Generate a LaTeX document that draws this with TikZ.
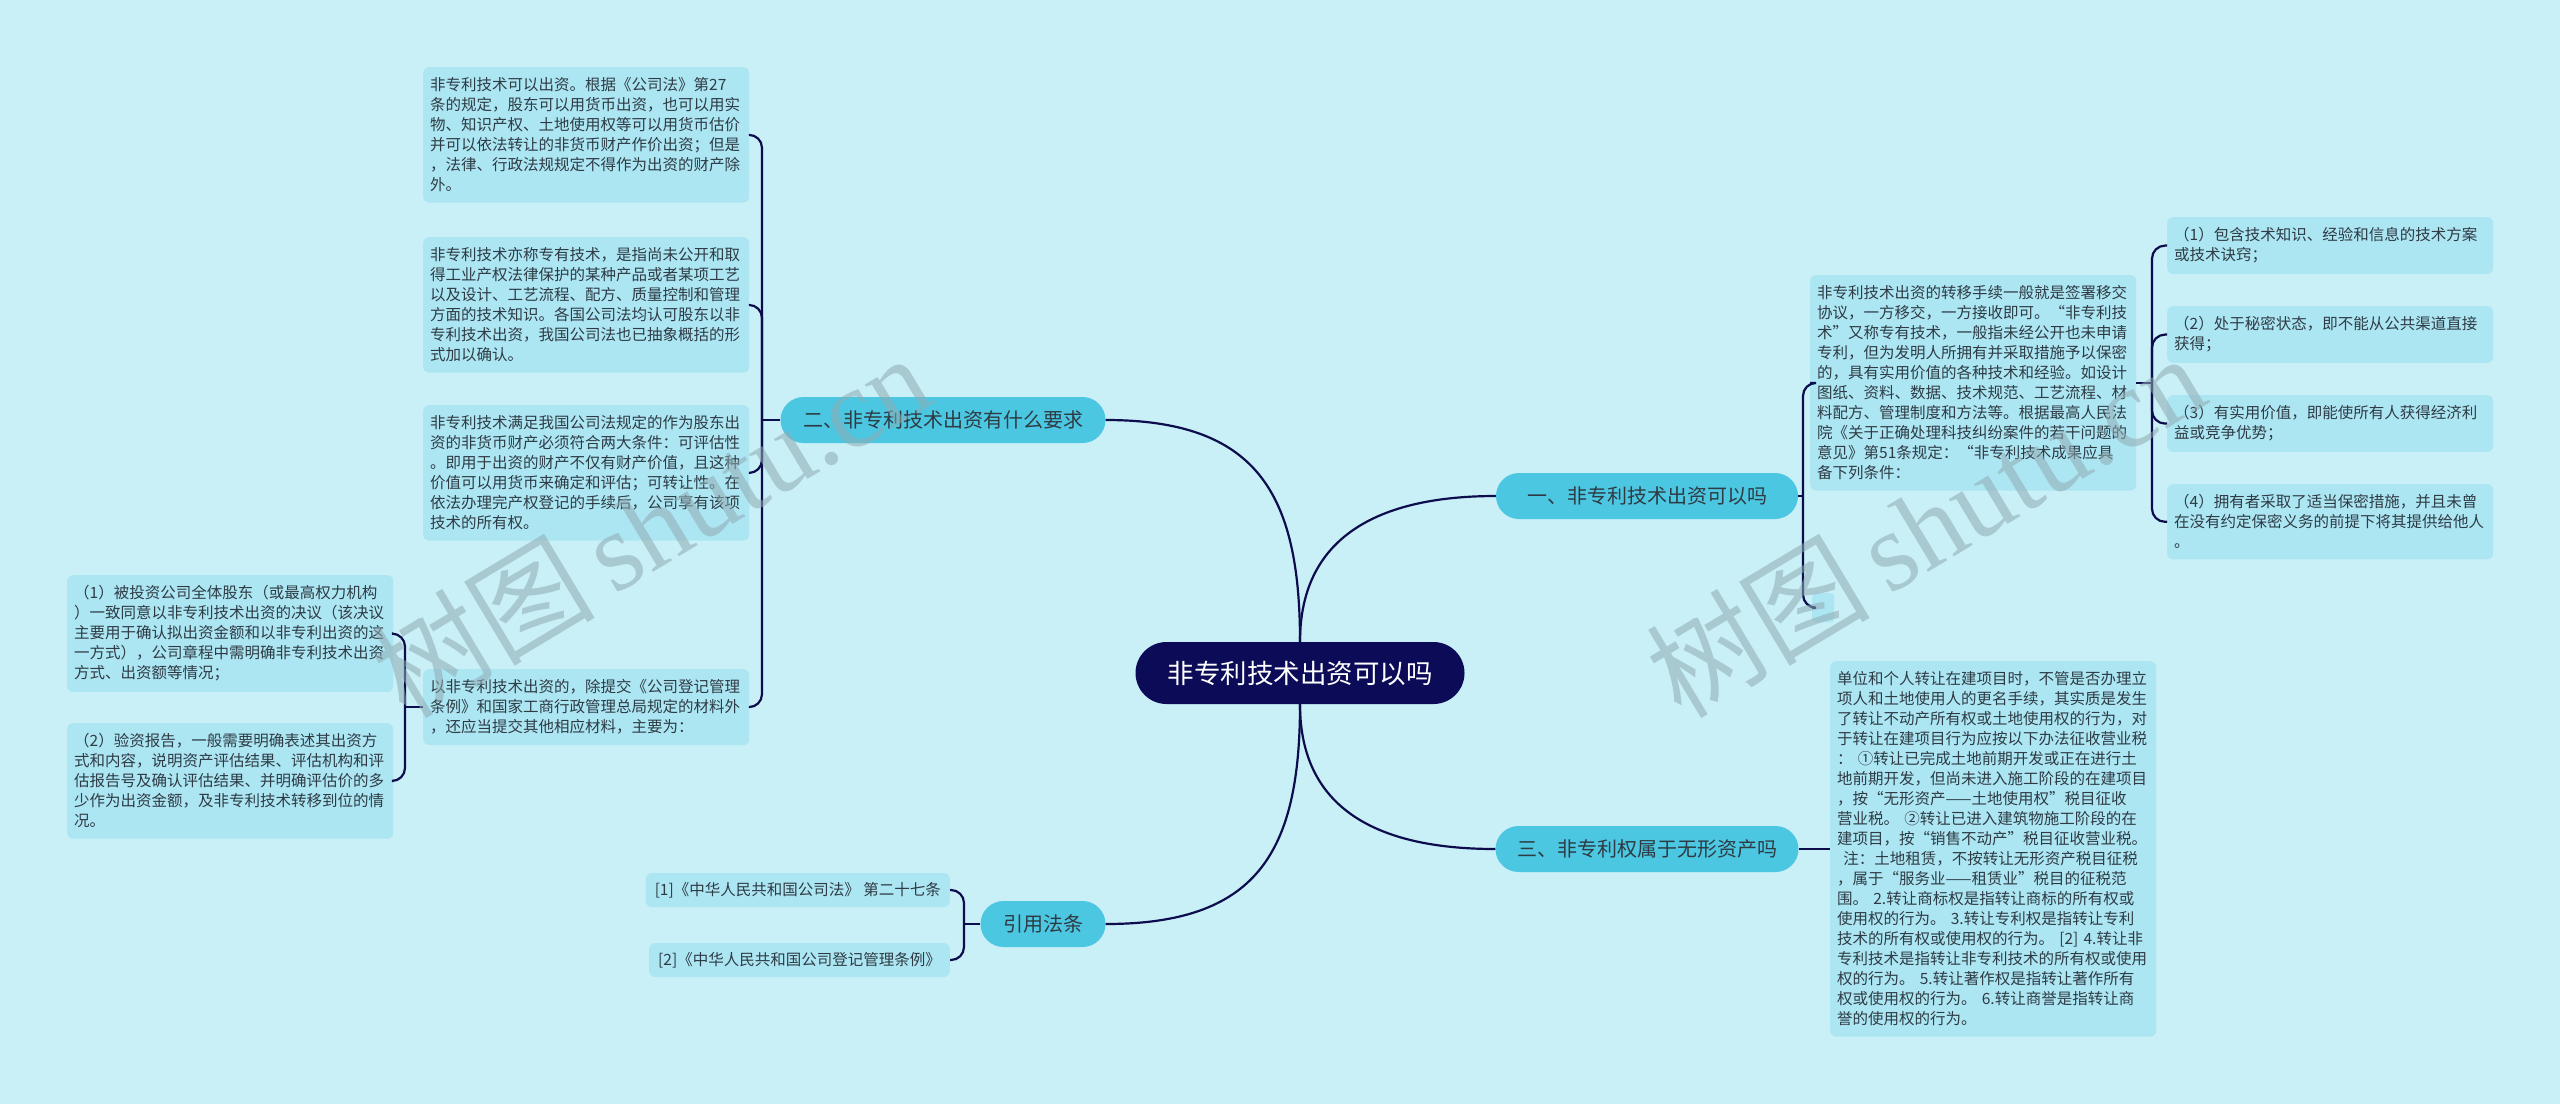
\documentclass[tikz,border=0pt]{standalone}
\usepackage{fontspec}
\newfontfamily\cjk{Noto Sans CJK SC}
\newfontfamily\wmserif{Liberation Serif}
\usetikzlibrary{calc}
\definecolor{bgc}{HTML}{C9EFF7}
\definecolor{boxc}{HTML}{ADE6F3}
\definecolor{lvlc}{HTML}{4CC7E1}
\definecolor{rootc}{HTML}{0B0B58}
\definecolor{linec}{HTML}{0D0D4D}
\definecolor{txtc}{HTML}{2E3B44}
\definecolor{wmc}{HTML}{8FAAB3}
\tikzset{
  box/.style={rectangle, rounded corners=6pt, fill=boxc, text=txtc,
    font=\cjk\fontsize{15.5}{20}\selectfont, align=left, text width=312pt,
    inner xsep=7pt, inner ysep=10.5pt, anchor=north west},
  sbox/.style={rectangle, rounded corners=6pt, fill=boxc, text=txtc,
    font=\cjk\fontsize{15.5}{20}\selectfont, inner xsep=9pt, inner ysep=0pt,
    minimum height=34pt},
  lvl/.style={rectangle, rounded corners=23pt, fill=lvlc, text=txtc,
    font=\cjk\fontsize{20}{24}\selectfont, minimum height=46pt, inner xsep=0pt},
  root/.style={rectangle, rounded corners=31pt, fill=rootc, text=white,
    font=\cjk\fontsize{26.5}{30}\selectfont, minimum height=62pt,
    minimum width=329pt, inner xsep=0pt},
  conn/.style={draw=linec, line width=2.2pt},
  brk/.style={draw=linec, line width=2.2pt, rounded corners=13pt},
  wm/.style={text=wmc, opacity=0.55, inner sep=0pt}
}
\begin{document}
\begin{tikzpicture}[x=1pt,y=-1pt]
\fill[bgc] (0,0) rectangle (2560,1104);
\useasboundingbox (0,0) rectangle (2560,1104);

% root and main branches
\node[root] (root) at (1300,673) {非专利技术出资可以吗};
\node[lvl, minimum width=325pt] (n2) at (943,420) {二、非专利技术出资有什么要求};
\node[lvl, minimum width=302pt] (n1) at (1647,496) {一、非专利技术出资可以吗};
\node[lvl, minimum width=303pt] (n3) at (1647,849) {三、非专利权属于无形资产吗};
\node[lvl, minimum width=125pt] (nr) at (1043,924) {引用法条};

% left boxes
\node[box] (A) at (423,67) {非专利技术可以出资。根据《公司法》第27\\
条的规定，股东可以用货币出资，也可以用实\\
物、知识产权、土地使用权等可以用货币估价\\
并可以依法转让的非货币财产作价出资；但是\\
，法律、行政法规规定不得作为出资的财产除\\
外。};
\node[box] (B) at (423,237) {非专利技术亦称专有技术，是指尚未公开和取\\
得工业产权法律保护的某种产品或者某项工艺\\
以及设计、工艺流程、配方、质量控制和管理\\
方面的技术知识。各国公司法均认可股东以非\\
专利技术出资，我国公司法也已抽象概括的形\\
式加以确认。};
\node[box] (C) at (423,405) {非专利技术满足我国公司法规定的作为股东出\\
资的非货币财产必须符合两大条件：可评估性\\
。即用于出资的财产不仅有财产价值，且这种\\
价值可以用货币来确定和评估；可转让性。在\\
依法办理完产权登记的手续后，公司享有该项\\
技术的所有权。};
\node[box] (D) at (423,669) {以非专利技术出资的，除提交《公司登记管理\\
条例》和国家工商行政管理总局规定的材料外\\
，还应当提交其他相应材料，主要为：};
\node[box] (E) at (67,575) {（1）被投资公司全体股东（或最高权力机构\\
）一致同意以非专利技术出资的决议（该决议\\
主要用于确认拟出资金额和以非专利出资的这\\
一方式），公司章程中需明确非专利技术出资\\
方式、出资额等情况；};
\node[box] (F) at (67,723) {（2）验资报告，一般需要明确表述其出资方\\
式和内容，说明资产评估结果、评估机构和评\\
估报告号及确认评估结果、并明确评估价的多\\
少作为出资金额，及非专利技术转移到位的情\\
况。};
\node[sbox, anchor=east] (J1) at (950,890) {[1]《中华人民共和国公司法》 第二十七条};
\node[sbox, anchor=east] (J2) at (950,960) {[2]《中华人民共和国公司登记管理条例》};

% right boxes
\node[box] (G) at (1810,275) {非专利技术出资的转移手续一般就是签署移交\\
协议，一方移交，一方接收即可。“非专利技\\
术”又称专有技术，一般指未经公开也未申请\\
专利，但为发明人所拥有并采取措施予以保密\\
的，具有实用价值的各种技术和经验。如设计\\
图纸、资料、数据、技术规范、工艺流程、材\\
料配方、管理制度和方法等。根据最高人民法\\
院《关于正确处理科技纠纷案件的若干问题的\\
意见》第51条规定：“非专利技术成果应具\\
备下列条件：};
\node[rectangle, rounded corners=4pt, fill=boxc, minimum width=22pt,
  minimum height=29pt, inner sep=0pt, anchor=north west] (K) at (1812,593) {};
\node[box] (H1) at (2167,217) {（1）包含技术知识、经验和信息的技术方案\\
或技术诀窍；};
\node[box] (H2) at (2167,306) {（2）处于秘密状态，即不能从公共渠道直接\\
获得；};
\node[box] (H3) at (2167,395) {（3）有实用价值，即能使所有人获得经济利\\
益或竞争优势；};
\node[box] (H4) at (2167,484) {（4）拥有者采取了适当保密措施，并且未曾\\
在没有约定保密义务的前提下将其提供给他人\\
。};
\node[box] (I) at (1830,661) {单位和个人转让在建项目时，不管是否办理立\\
项人和土地使用人的更名手续，其实质是发生\\
了转让不动产所有权或土地使用权的行为，对\\
于转让在建项目行为应按以下办法征收营业税\\
： ①转让已完成土地前期开发或正在进行土\\
地前期开发，但尚未进入施工阶段的在建项目\\
，按“无形资产——土地使用权”税目征收\\
营业税。 ②转让已进入建筑物施工阶段的在\\
建项目，按“销售不动产”税目征收营业税。\\
\hspace*{0.4em}注：土地租赁，不按转让无形资产税目征税\\
，属于“服务业——租赁业”税目的征税范\\
围。 2.转让商标权是指转让商标的所有权或\\
使用权的行为。 3.转让专利权是指转让专利\\
技术的所有权或使用权的行为。 [2] 4.转让非\\
专利技术是指转让非专利技术的所有权或使用\\
权的行为。 5.转让著作权是指转让著作所有\\
权或使用权的行为。 6.转让商誉是指转让商\\
誉的使用权的行为。};

% main curves
\draw[conn] (root.north) .. controls ($(root.north)+(0,-150)$) and ($(n2.east)+(150,0)$) .. (n2.east);
\draw[conn] (root.north) .. controls ($(root.north)+(0,-110)$) and ($(n1.west)+(-110,0)$) .. (n1.west);
\draw[conn] (root.south) .. controls ($(root.south)+(0,110)$) and ($(n3.west)+(-110,0)$) .. (n3.west);
\draw[conn] (root.south) .. controls ($(root.south)+(0,150)$) and ($(nr.east)+(150,0)$) .. (nr.east);

% bracket for n2
\coordinate (j2) at (762,420);
\draw[conn] (n2.west) -- (j2);
\foreach \c in {A,B,C,D} \draw[brk] (j2) |- (\c.east);

% bracket for D
\coordinate (xD) at (405,0);
\coordinate (jD) at (D.west -| xD);
\draw[conn] (D.west) -- (jD);
\foreach \c in {E,F} \draw[brk] (jD) |- (\c.east);

% bracket for nr
\coordinate (jr) at (964,924);
\draw[conn] (nr.west) -- (jr);
\foreach \c in {J1,J2} \draw[brk] (jr) |- (\c.east);

% bracket for n1
\coordinate (j1) at (1803,496);
\draw[conn] (n1.east) -- (j1);
\foreach \c in {G,K} \draw[brk] (j1) |- (\c.west);

% bracket for G
\coordinate (xG) at (2152,0);
\coordinate (jG) at (G.east -| xG);
\draw[conn] (G.east) -- (jG);
\foreach \c in {H1,H2,H3,H4} \draw[brk] (jG) |- (\c.west);

% n3 to I
\draw[conn] (n3.east) -- (I.west |- n3.east);

% watermarks
\node[wm, rotate=31] (wm1) at (650,525) {\fontsize{112}{112}\selectfont\cjk 树图\,\wmserif shutu.cn};
\node[wm, rotate=31] (wm2) at (1925,525) {\fontsize{112}{112}\selectfont\cjk 树图\,\wmserif shutu.cn};
\end{tikzpicture}
\end{document}
